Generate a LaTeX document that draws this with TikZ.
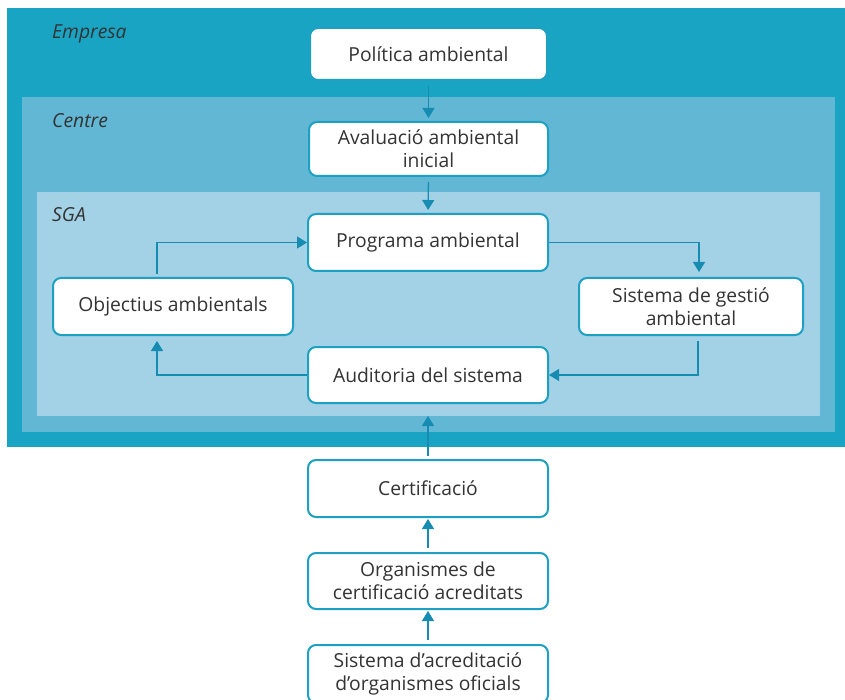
\documentclass[tikz,border=0pt]{standalone}
\usepackage{fontspec}
\setmainfont{Open Sans}
\usetikzlibrary{arrows.meta}
\definecolor{dark}{RGB}{26,164,196}
\definecolor{mid}{RGB}{98,183,212}
\definecolor{light}{RGB}{163,210,230}
\definecolor{edge}{RGB}{30,160,195}
\definecolor{arr}{RGB}{22,140,178}
\definecolor{txt}{RGB}{51,51,51}
\begin{document}
\begin{tikzpicture}[x=1pt,y=-1pt,
 box/.style={draw=edge, line width=2pt, fill=white, rounded corners=8pt, align=center, text=txt,
   font=\fontsize{19.3}{23}\selectfont, minimum width=240pt, minimum height=56pt, inner sep=0pt},
 conn/.style={draw=arr, line width=1.3pt, -{Triangle[width=12pt,length=10pt]}},
 lbl/.style={font=\itshape\fontsize{19.3}{22}\selectfont, text=txt, anchor=base west, inner sep=0pt}]
\useasboundingbox (0,0) rectangle (845,700);
\fill[white] (0,0) rectangle (845,700);
\fill[dark] (7,8) rectangle (845,447);
\fill[mid] (22,97) rectangle (835,432);
\fill[light] (37,192) rectangle (820,416);
\node[lbl] (lemp) at (52,39) {Empresa};
\node[lbl] (lcen) at (52,128) {Centre};
\node[lbl] (lsga) at (52,222) {SGA};
\coordinate (sgabot) at (428,416);

\node[box, minimum width=237pt, minimum height=52pt] (pol) at (428.5,54) {Política ambiental};
\node[box, minimum width=239pt, minimum height=54pt] (aval) at (428.5,149) {Avaluació ambiental\\inicial};
\node[box, minimum height=57pt] (prog) at (428,242.5) {Programa ambiental};
\node[box] (aud) at (428,375) {Auditoria del sistema};
\node[box, minimum height=57pt] (obj) at (173,306.5) {Objectius ambientals};
\node[box, minimum width=224pt, minimum height=57pt] (sges) at (691,306.5) {Sistema de gestió\\ambiental};
\node[box, minimum height=57pt] (cert) at (428,488.5) {Certificació};
\node[box] (org) at (428,581) {Organismes de\\certificació acreditats};
\node[box, minimum height=58pt] (acr) at (428,674) {Sistema d’acreditació\\d’organismes oficials};

\draw[conn, shorten <=5pt, shorten >=3pt] (pol.south) -- (aval.north);
\draw[conn, shorten <=5pt, shorten >=3pt] (aval.south) -- (prog.north);
\draw[conn, shorten >=5pt] (prog.east) -| ([xshift=8pt]sges.north);
\draw[conn, shorten <=5pt] ([xshift=7pt]sges.south) |- (aud.east);
\draw[conn, shorten >=5pt] (aud.west) -| ([xshift=-16pt]obj.south);
\draw[conn, shorten <=3pt] ([xshift=-16pt]obj.north) |- (prog.west);
\draw[conn, shorten <=3pt] (cert.north) -- (sgabot);
\draw[conn, shorten <=4pt, shorten >=1pt] (org.north) -- (cert.south);
\draw[conn, shorten <=4pt, shorten >=1pt] (acr.north) -- (org.south);
\end{tikzpicture}
\end{document}
